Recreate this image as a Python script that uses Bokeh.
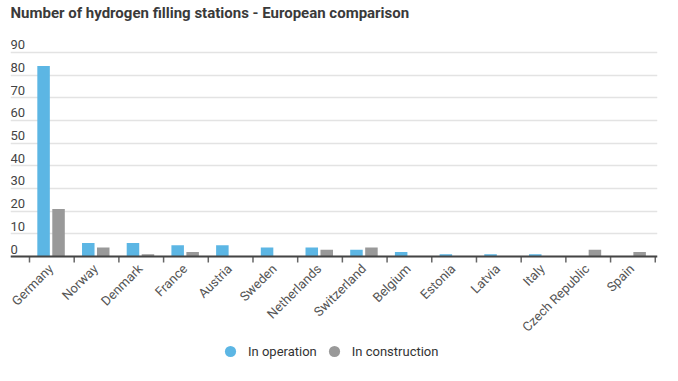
import numpy as np
from bokeh.plotting import figure
from bokeh.models import (Range1d, FixedTicker, ColumnDataSource, Legend, LegendItem,
                          Span, Grid, Label)
from bokeh.core.properties import value
from bokeh.transform import dodge
from bokeh.embed import file_html
from bokeh.resources import INLINE

title_text = "Number of hydrogen filling stations - European comparison"
categories = ["Germany", "Norway", "Denmark", "France", "Austria", "Sweden", "Netherlands",
              "Switzerland", "Belgium", "Estonia", "Latvia", "Italy", "Czech Republic", "Spain"]
in_operation = [84, 6, 6, 5, 5, 4, 4, 3, 2, 1, 1, 1, 0, 0]
in_construction = [21, 4, 1, 2, 0, 0, 3, 4, 0, 0, 0, 0, 3, 2]
y_ticks = [0, 10, 20, 30, 40, 50, 60, 70, 80, 90]
y_labels = [str(t) for t in y_ticks]

BLUE = "#5cb6e4"
GREY = "#999999"
FONT = "Roboto"

# layout: pixels per value unit, space above and below the zero line
PX = 2.2667
ABOVE_PX = 256
BELOW_PX = 109

xs = np.arange(len(categories))
bounds = np.arange(len(categories) + 1) - 0.5

# frame covers the whole chart area (title and labels drawn inside it)
p = figure(frame_width=647, frame_height=ABOVE_PX + BELOW_PX, output_backend="svg",
           toolbar_location=None,
           x_range=Range1d(-0.925, 13.55), y_range=Range1d(-BELOW_PX / PX, ABOVE_PX / PX),
           x_axis_location=None, y_axis_location=None,
           min_border_left=10, min_border_right=5, min_border_top=0, min_border_bottom=0)

p.outline_line_color = None
for g in p.grid:
    g.visible = False
p.add_layout(Grid(dimension=1, ticker=FixedTicker(ticks=y_ticks),
                  grid_line_color="#e3e3e3", grid_line_width=1.5))

# title
p.add_layout(Label(x=p.x_range.start, y=p.y_range.end - 3 / PX, text=title_text,
                   text_font=FONT, text_font_size="15px", text_font_style="bold",
                   text_color="#3a3a3a", text_baseline="top", text_align="left"))

src = ColumnDataSource(dict(x=xs, op=in_operation, co=in_construction, cat=categories))
p.vbar(x=dodge("x", -0.185, range=p.x_range), top="op", width=0.28, source=src,
       fill_color=BLUE, line_color=None)
p.vbar(x=dodge("x", 0.15, range=p.x_range), top="co", width=0.28, source=src,
       fill_color=GREY, line_color=None)

# baseline (x axis line)
p.add_layout(Span(location=0, dimension="width", line_color="#444444", line_width=2))

# tick marks between categories
p.ray(x=bounds, y=[0] * len(bounds), length=6, length_units="screen", angle=-np.pi / 2,
      line_color="#666666", line_width=1.5)

# category labels
p.text(x="x", y=0, text="cat", source=src, angle=np.pi / 4, text_align="right",
       text_baseline="middle", x_offset=-1, y_offset=10, text_font=value(FONT),
       text_font_size="13px", text_color="#555555")

# y labels drawn above gridlines
ysrc = ColumnDataSource(dict(x=[p.x_range.start] * len(y_ticks), y=y_ticks, t=y_labels))
p.text(x="x", y="y", text="t", source=ysrc, text_font=value(FONT), text_font_size="13px",
       text_color="#444444", text_baseline="bottom", text_align="left", y_offset=-3)

r1 = p.scatter(x=[np.nan], y=[np.nan], marker="circle", size=13, fill_color=BLUE, line_color=None)
r2 = p.scatter(x=[np.nan], y=[np.nan], marker="circle", size=13, fill_color=GREY, line_color=None)
legend = Legend(items=[LegendItem(label="In operation", renderers=[r1]),
                       LegendItem(label="In construction", renderers=[r2])],
                orientation="horizontal", location=(206, 0))
legend.border_line_color = None
legend.background_fill_alpha = 0
legend.label_text_font = FONT
legend.label_text_font_size = "13px"
legend.label_text_color = "#333333"
legend.glyph_width = 28
legend.glyph_height = 28
legend.label_standoff = 4
legend.spacing = 3
legend.margin = 0
legend.padding = 0
p.add_layout(legend, "center")

open("out.html", "w").write(file_html(p, INLINE))
